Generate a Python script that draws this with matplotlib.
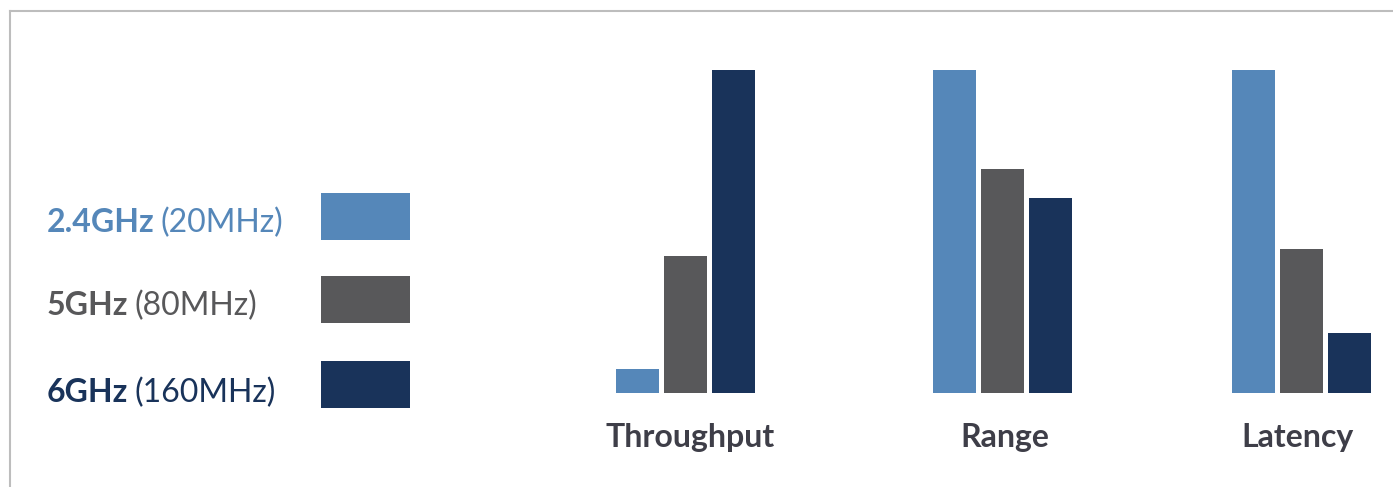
import matplotlib
matplotlib.use("Agg")
import matplotlib.pyplot as plt
from matplotlib.patches import Rectangle
from matplotlib.lines import Line2D

# ---- data ----
categories = ["Throughput", "Range", "Latency"]
band_names = ["2.4GHz", "5GHz", "6GHz"]
band_widths = ["(20MHz)", "(80MHz)", "(160MHz)"]
vals_24 = [7.5, 100, 100]
vals_5 = [42.5, 69.5, 44.5]
vals_6 = [100, 60.5, 18.5]
series = [vals_24, vals_5, vals_6]
colors = ["#5587B9", "#58585A", "#19335A"]

# ---- layout ----
W, H = 1393, 487
fig = plt.figure(figsize=(W / 100, H / 100), dpi=100)
fig.patch.set_facecolor("white")
FONT = "Lato"

base_px, top_px = 393, 70
ax = fig.add_axes([0, (H - base_px) / H, 1, (base_px - top_px) / H])
ax.set_xlim(0, W)
ax.set_ylim(0, 100)
ax.axis("off")

group_centers = [685, 1002, 1301]
label_centers = [690, 1005, 1297]
offsets = [-48, 0, 48]
bw = 43
for si, vals in enumerate(series):
    xs = [c + offsets[si] for c in group_centers]
    ax.bar(xs, vals, width=bw, color=colors[si], linewidth=0)

for c, lab in zip(label_centers, categories):
    fig.text(c / W, 1 - 447 / H, lab, ha="center", va="baseline",
             fontsize=23, fontweight="bold", color="#3E3E48", family=FONT)

# legend overlay
lax = fig.add_axes([0, 0, 1, 1])
lax.set_xlim(0, W)
lax.set_ylim(H, 0)
lax.axis("off")
lax.patch.set_alpha(0)

# frame lines
lax.add_line(Line2D([9.5, W], [10.5, 10.5], color="#BDBDBD", lw=1.5))
lax.add_line(Line2D([9.5, 9.5], [10.5, H], color="#BDBDBD", lw=1.5))

patch_tops = [193, 276, 361]
baselines = [232, 315, 402]
fig.canvas.draw()
renderer = fig.canvas.get_renderer()
for i in range(3):
    lax.add_patch(Rectangle((321, patch_tops[i]), 89, 47, color=colors[i], lw=0))
    t = lax.text(47, baselines[i], band_names[i], ha="left", va="baseline",
                 fontsize=23, fontweight="bold", color=colors[i], family=FONT)
    bb = t.get_window_extent(renderer=renderer)
    x_end = bb.x1
    lax.text(x_end + 6, baselines[i], band_widths[i], ha="left", va="baseline",
             fontsize=23, color=colors[i], family=FONT)

fig.savefig("out.png", dpi=100, facecolor="white")
